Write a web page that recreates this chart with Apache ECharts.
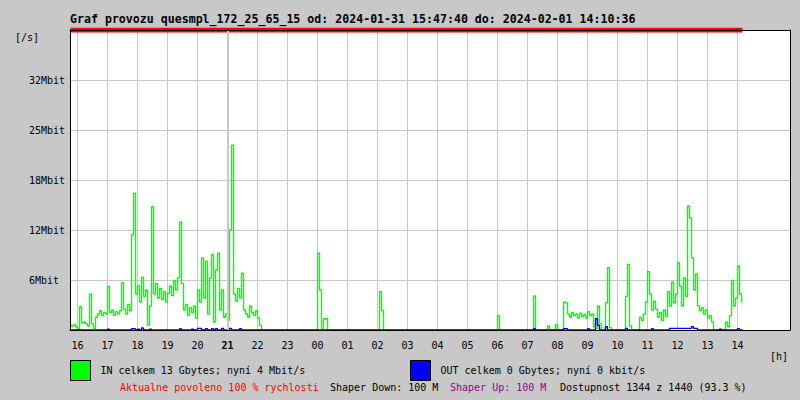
<!DOCTYPE html>
<html><head><meta charset="utf-8">
<script src="https://cdn.jsdelivr.net/npm/echarts@6/dist/echarts.min.js"></script>
<style>html,body{margin:0;padding:0;background:#c8c8c8}#c{width:800px;height:400px}</style>
</head><body><div id="c"></div>
<script>
const FONT = '"DejaVu Sans Mono", monospace';
const titleText = 'Graf provozu quesmpl_172_25_65_15 od: 2024-01-31 15:47:40 do: 2024-02-01 14:10:36';
const startMinute = 15 * 60 + 46;   // first 2-minute slot 15:46
const slotMinutes = 2;
const slotCount = 720;
const sampleEvery = 2;               // one value every 2 slots (4 minutes)
const hourLabels = ['16','17','18','19','20','21','22','23','00','01','02','03','04','05','06','07','08','09','10','11','12','13','14'];
const boldHour = '21';
const yTickLabels = ['', '6Mbit', '12Mbit', '18Mbit', '25Mbit', '32Mbit', ''];
const yStep = 6.25;
const yMax = 37.5;
const inLegendText = 'IN celkem 13 Gbytes; nyní 4 Mbit/s';
const outLegendText = 'OUT celkem 0 Gbytes; nyní 0 kbit/s';

// IN traffic, Mbit/s, one value per 4 minutes from 15:46
const inMbit = [
 0.6,0.5,0.7,0.4,0.1,2.9,0.9,1.0,0.8,0.5,
 4.5,0.8,0.2,1.6,2.0,2.4,1.8,2.2,2.0,5.4,
 2.2,2.5,1.8,2.3,2.0,2.4,5.9,2.6,2.0,3.2,
 2.4,11.9,17.1,4.5,5.5,3.5,6.6,4.2,5.0,0.6,
 3.0,15.4,4.5,5.8,4.0,5.2,3.8,4.8,3.5,4.6,
 5.5,4.3,6.2,5.0,6.5,13.5,5.8,2.5,3.2,1.8,
 2.8,2.2,3.0,1.5,5.0,3.5,9.0,4.0,8.6,2.0,
 6.5,9.4,1.0,7.5,9.6,2.5,5.0,1.6,2.0,1.2,
 12.5,23.1,4.5,3.6,5.2,4.0,7.1,2.5,2.0,1.6,
 3.0,2.2,1.8,2.4,1.5,0.6,0,0,0,0,
 0,0,0,0,0,0,0,0,0,0,
 0,0,0,0,0,0,0,0,0,0,
 0,0,0,0,9.6,5.0,0,1.4,1.4,0,
 0,0,0,0,0,0,0,0,0,0,
 0,0,0,0,0,0,0,0,0,0,
 0,0,0,0,0,4.8,2.4,0,0,0,
 0,0,0,0,0,0,0,0,0,0,
 0,0,0,0,0,0,0,0,0,0,
 0,0,0,0,0,0,0,0,0,0,
 0,0,0,0,0,0,0,0,0,0,
 0,0,0,0,0,0,0,0,0,0,
 0,0,0,0,1.8,0,0,0,0,0,
 0,0,0,0,0,0,0,0,0,0,
 0,0,4.25,0,0,0,0,0,0,0.5,
 0,0,0,0.7,0,0,0,3.5,3.4,2.0,
 1.6,2.2,1.8,2.0,1.5,2.1,1.7,1.9,1.5,2.3,
 1.8,2.0,0.4,0.2,3.0,0.8,0,0,3.4,7.8,
 0.3,0,0,0,0,0,0,0,4.2,8.2,
 0.5,0,0,0,0,1.6,1.2,2.0,3.5,7.3,
 4.5,2.5,3.6,2.6,1.6,2.2,1.2,2.5,1.7,4.8,
 3.0,6.0,3.4,4.5,8.4,5.5,3.0,6.5,4.2,15.5,
 14.0,9.0,5.0,7.0,3.0,2.4,2.8,2.0,2.5,1.5,
 1.8,1.0,0,0,0,0,0,0,1.0,0.4,
 1.8,6.2,3.0,4.0,8.0,4.5,3.5
];

// OUT traffic, Mbit/s, same sampling
const outMbit = [
 0,0,0,0,0,0,0,0,0,0,
 0,0,0,0,0,0,0,0,0,0.1,
 0,0,0,0,0,0,0,0,0,0,
 0,0.15,0.15,0,0.1,0,0.25,0,0,0,
 0.1,0,0,0,0,0,0,0,0,0,
 0,0,0,0,0,0.15,0,0,0,0,
 0,0.1,0,0,0.2,0.2,0,0,0.15,0,
 0,0.15,0,0.15,0,0,0.2,0,0,0,
 0.2,0,0,0,0,0.15,0,0,0,0,
 0,0,0,0,0,0,0,0,0,0,
 0,0,0,0,0,0,0,0,0,0,
 0,0,0,0,0,0,0,0,0,0,
 0,0,0,0,0,0,0,0,0,0,
 0,0,0,0,0,0,0,0,0,0,
 0,0,0,0,0,0,0,0,0,0,
 0,0,0,0,0,0,0,0,0,0,
 0,0,0,0,0,0,0,0,0,0,
 0,0,0,0,0,0,0,0,0,0,
 0,0,0,0,0,0,0,0,0,0,
 0,0,0,0,0,0,0,0,0,0,
 0,0,0,0,0,0,0,0,0,0,
 0,0,0,0,0,0,0,0,0,0,
 0,0,0,0,0,0,0,0,0,0,
 0,0,0.15,0,0,0,0,0,0,0,
 0,0,0,0,0,0,0,0.15,0.15,0,
 0,0,0,0,0,0,0,0,0,0.15,
 0,0,0,1.4,0.6,0,0,0,0.4,0,
 0,0,0,0,0,0,0,0,0.2,0,
 0,0,0,0,0,0,0,0,0,0,
 0,0.15,0,0,0,0,0,0,0,0,
 0.2,0.2,0.2,0.2,0.2,0.2,0.2,0.2,0.2,0.2,
 0.2,0.4,0.2,0.2,0,0,0,0,0,0,
 0,0,0,0,0,0.1,0,0,0,0,
 0,0,0,0,0.15,0,0
];

const pad = n => (n < 10 ? '0' : '') + n;
const slots = [];
for (let k = 0; k < slotCount; k++) {
  const m = (startMinute + k * slotMinutes) % 1440;
  slots.push(pad(Math.floor(m / 60)) + ':' + pad(m % 60));
}
const hourSlots = hourLabels.map(h => slots.indexOf(h + ':00'));
const hourSet = new Set(hourSlots);
const inData = inMbit.map((v, i) => [i * sampleEvery, v]);
const outData = outMbit.map((v, i) => [i * sampleEvery, v]);
const lastSlot = (inMbit.length - 1) * sampleEvery;

const chart = echarts.init(document.getElementById('c'), null, {renderer: 'svg'});
const txt = (text, x, y, extra) => Object.assign({type: 'text', x: x, y: y, silent: true,
  style: Object.assign({text: text, fill: '#000', font: '10px ' + FONT, verticalAlign: 'middle', align: 'left'}, extra || {})});
const frameX = (pos) => ({type: 'value', position: pos, min: 0, max: 1, z: 10, gridIndex: 0,
  axisLine: {show: true, onZero: false, lineStyle: {color: '#000', width: 1}},
  axisTick: {show: false}, axisLabel: {show: false}, splitLine: {show: false}});
const frameY = (pos) => ({type: 'value', position: pos, min: 0, max: 1, z: 10,
  axisLine: {show: true, onZero: false, lineStyle: {color: '#000', width: 1}},
  axisTick: {show: false}, axisLabel: {show: false}, splitLine: {show: false}});
const legendBase = {
  top: 360, padding: 0, icon: 'rect', itemWidth: 20, itemHeight: 20, selectedMode: false,
  itemStyle: {borderColor: '#000', borderWidth: 1},
  textStyle: {fontFamily: FONT, fontSize: 10, color: '#000', padding: [0, 0, 6, 5]}
};

chart.setOption({
  animation: false,
  backgroundColor: '#c8c8c8',
  grid: {left: 70, top: 30, width: 720, height: 300, show: true, backgroundColor: '#ffffff', borderWidth: 0, containLabel: false, outerBoundsMode: 'none'},
  legend: [
    Object.assign({}, legendBase, {left: 70, data: ['IN'], formatter: () => inLegendText}),
    Object.assign({}, legendBase, {left: 410, data: ['OUT'], formatter: () => outLegendText})
  ],
  xAxis: [
    {type: 'category', data: slots, boundaryGap: true, position: 'bottom',
     axisLine: {show: false}, axisTick: {show: false},
     splitLine: {show: true, interval: (i) => hourSet.has(i), lineStyle: {color: '#c8c8c8', width: 1}},
     axisLabel: {interval: (i) => hourSet.has(i), margin: 10, color: '#000', fontFamily: FONT, fontSize: 10,
       formatter: (v, i) => { const h = v.slice(0, 2); return h === boldHour ? '{b|' + h + '}' : h; },
       rich: {b: {fontWeight: 'bold', fontFamily: FONT, fontSize: 10, color: '#000'}}}},
    frameX('bottom'),
    frameX('top')
  ],
  yAxis: [
    {type: 'value', min: 0, max: yMax, interval: yStep, position: 'left',
     axisLine: {show: false}, axisTick: {show: false},
     splitLine: {show: true, lineStyle: {color: '#c8c8c8', width: 1}},
     axisLabel: {align: 'left', margin: 41, color: '#000', fontFamily: FONT, fontSize: 10, padding: [5, 0, 0, 0],
       formatter: (v, i) => yTickLabels[i] || ''}},
    frameY('left'),
    frameY('right')
  ],
  graphic: [
    txt(titleText, 70, 19, {font: 'bold 11.6px ' + FONT}),
    txt('[/s]', 15, 37),
    txt('[h]', 770, 356.5),
    txt('Aktualne povoleno 100 % rychlosti', 120, 387, {fill: '#ff0000'}),
    txt('Shaper Down: 100 M', 330, 387),
    txt('Shaper Up: 100 M', 450, 387, {fill: '#960096'}),
    txt('Dostupnost 1344 z 1440 (93.3 %)', 560, 387)
  ],
  series: [
    {name: 'cap', type: 'line', xAxisIndex: 0, yAxisIndex: 0, z: 2, silent: true, symbol: 'none',
     data: [[0, yMax], [lastSlot, yMax]], lineStyle: {color: '#ff0000', width: 5}},
    {name: 'day', type: 'line', xAxisIndex: 0, yAxisIndex: 0, z: 1, silent: true, symbol: 'none', data: [],
     markLine: {silent: true, symbol: ['none', 'none'], label: {show: false},
       lineStyle: {color: '#c8c8c8', width: 2, type: 'solid'},
       data: [{xAxis: boldHour + ':00'}]}},
    {name: 'IN', type: 'line', xAxisIndex: 0, yAxisIndex: 0, z: 3, symbol: 'none', step: 'middle',
     color: '#00ff00', data: inData, lineStyle: {color: '#00ff00', width: 1.4}},
    {name: 'OUT', type: 'line', xAxisIndex: 0, yAxisIndex: 0, z: 4, symbol: 'none', step: 'middle',
     color: '#0000ff', data: outData, lineStyle: {color: '#0000ff', width: 1.4}}
  ]
});
</script></body></html>
